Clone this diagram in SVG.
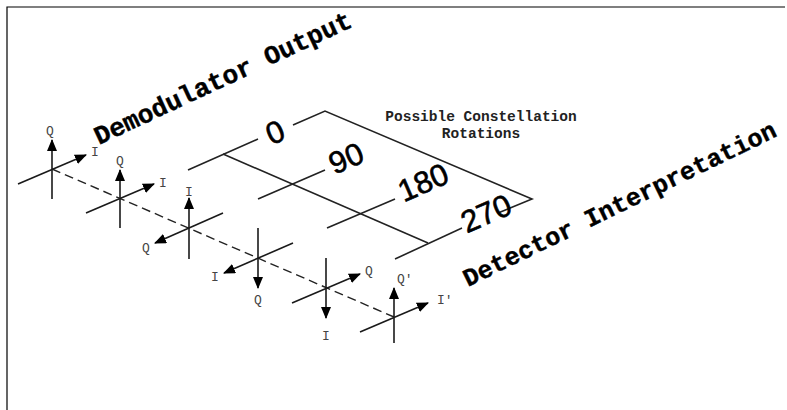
<svg xmlns="http://www.w3.org/2000/svg" width="787" height="410" viewBox="0 0 787 410">
<style>
.ax{stroke:#1a1a1a;stroke-width:1.6;fill:none}
.rl{stroke:#222;stroke-width:1.6;fill:none}
.lbl{font-family:"Liberation Mono","Courier New",monospace;font-size:13px;fill:#444;text-anchor:middle}
.lbs{font-family:"Liberation Mono","Courier New",monospace;font-size:13px;fill:#444}
.title{font-family:"Liberation Mono","Courier New",monospace;font-size:26px;font-weight:bold;fill:#000;stroke:#000;stroke-width:0.4}
.dig{font-family:"Liberation Sans",Arial,sans-serif;font-size:31px;fill:#000;stroke:#000;stroke-width:0.6;text-anchor:middle}
.sub{font-family:"Liberation Mono","Courier New",monospace;font-size:14.5px;font-weight:bold;fill:#222;text-anchor:middle}
</style>
<defs>
<marker id="ah" viewBox="0 0 12 10" refX="11" refY="5" markerWidth="12" markerHeight="10" markerUnits="userSpaceOnUse" orient="auto">
<path d="M0,0 L12,5 L0,10 Z" fill="#000"/>
</marker>
</defs>
<rect width="787" height="410" fill="#fff"/>
<g id="frame"><path d="M7,410 V7 H785" stroke="#000" stroke-width="1.2" fill="none"/></g>

<g id="connectors">
<line x1="52" y1="169" x2="394" y2="317" stroke="#222" stroke-width="1.4" stroke-dasharray="9,5"/>
</g>

<g id="title-demod"><text class="title" transform="translate(99,145) rotate(-25)">Demodulator Output</text></g>
<g id="title-detector"><text class="title" style="font-size:25px" transform="translate(468,287) rotate(-26)">Detector Interpretation</text></g>

<g id="cross1">
<line class="ax" x1="52" y1="199" x2="52" y2="140" marker-end="url(#ah)"/>
<line class="ax" x1="18" y1="184" x2="86" y2="155" marker-end="url(#ah)"/>
<text class="lbl" x="50" y="135">Q</text><text class="lbl" x="95" y="156">I</text>
</g>
<g id="cross2">
<line class="ax" x1="120" y1="228" x2="120" y2="170" marker-end="url(#ah)"/>
<line class="ax" x1="86" y1="213" x2="154" y2="184" marker-end="url(#ah)"/>
<text class="lbl" x="120" y="165">Q</text><text class="lbl" x="163" y="187">I</text>
</g>
<g id="cross3">
<line class="ax" x1="189" y1="259" x2="189" y2="198" marker-end="url(#ah)"/>
<line class="ax" x1="223" y1="213" x2="155" y2="243" marker-end="url(#ah)"/>
<text class="lbl" x="189" y="196">I</text><text class="lbl" x="146" y="252">Q</text>
</g>
<g id="cross4">
<line class="ax" x1="258" y1="228" x2="258" y2="288" marker-end="url(#ah)"/>
<line class="ax" x1="293" y1="243" x2="224" y2="273" marker-end="url(#ah)"/>
<text class="lbl" x="215" y="281">I</text><text class="lbl" x="258" y="304">Q</text>
</g>
<g id="cross5">
<line class="ax" x1="326" y1="258" x2="326" y2="318" marker-end="url(#ah)"/>
<line class="ax" x1="292" y1="303" x2="360" y2="274" marker-end="url(#ah)"/>
<text class="lbl" x="369" y="275">Q</text><text class="lbl" x="326" y="340">I</text>
</g>
<g id="cross6">
<line class="ax" x1="394" y1="343" x2="394" y2="288" marker-end="url(#ah)"/>
<line class="ax" x1="360" y1="332" x2="428" y2="303" marker-end="url(#ah)"/>
<text class="lbs" x="397" y="283">Q'</text><text class="lbs" x="437" y="304">I'</text>
</g>

<g id="rotations">
<path class="rl" d="M188,170 L258,139 M293,125 L325,111 L532,199 L498,213"/>
<line class="rl" x1="223" y1="154" x2="428" y2="243"/>
<line class="rl" x1="258" y1="199" x2="325" y2="170"/>
<line class="rl" x1="327" y1="228" x2="395" y2="199"/>
<line class="rl" x1="395" y1="259" x2="462" y2="228"/>
<text class="dig" transform="translate(275,132) rotate(-23.5)" y="11">0</text>
<text class="dig" transform="translate(346,158) rotate(-23.5)" y="11">90</text>
<text class="dig" transform="translate(423,182) rotate(-23.5)" y="11">180</text>
<text class="dig" transform="translate(486,213) rotate(-23.5)" y="11">270</text>
<text class="sub" x="481" y="121">Possible Constellation</text>
<text class="sub" x="481" y="138">Rotations</text>
</g>
</svg>
